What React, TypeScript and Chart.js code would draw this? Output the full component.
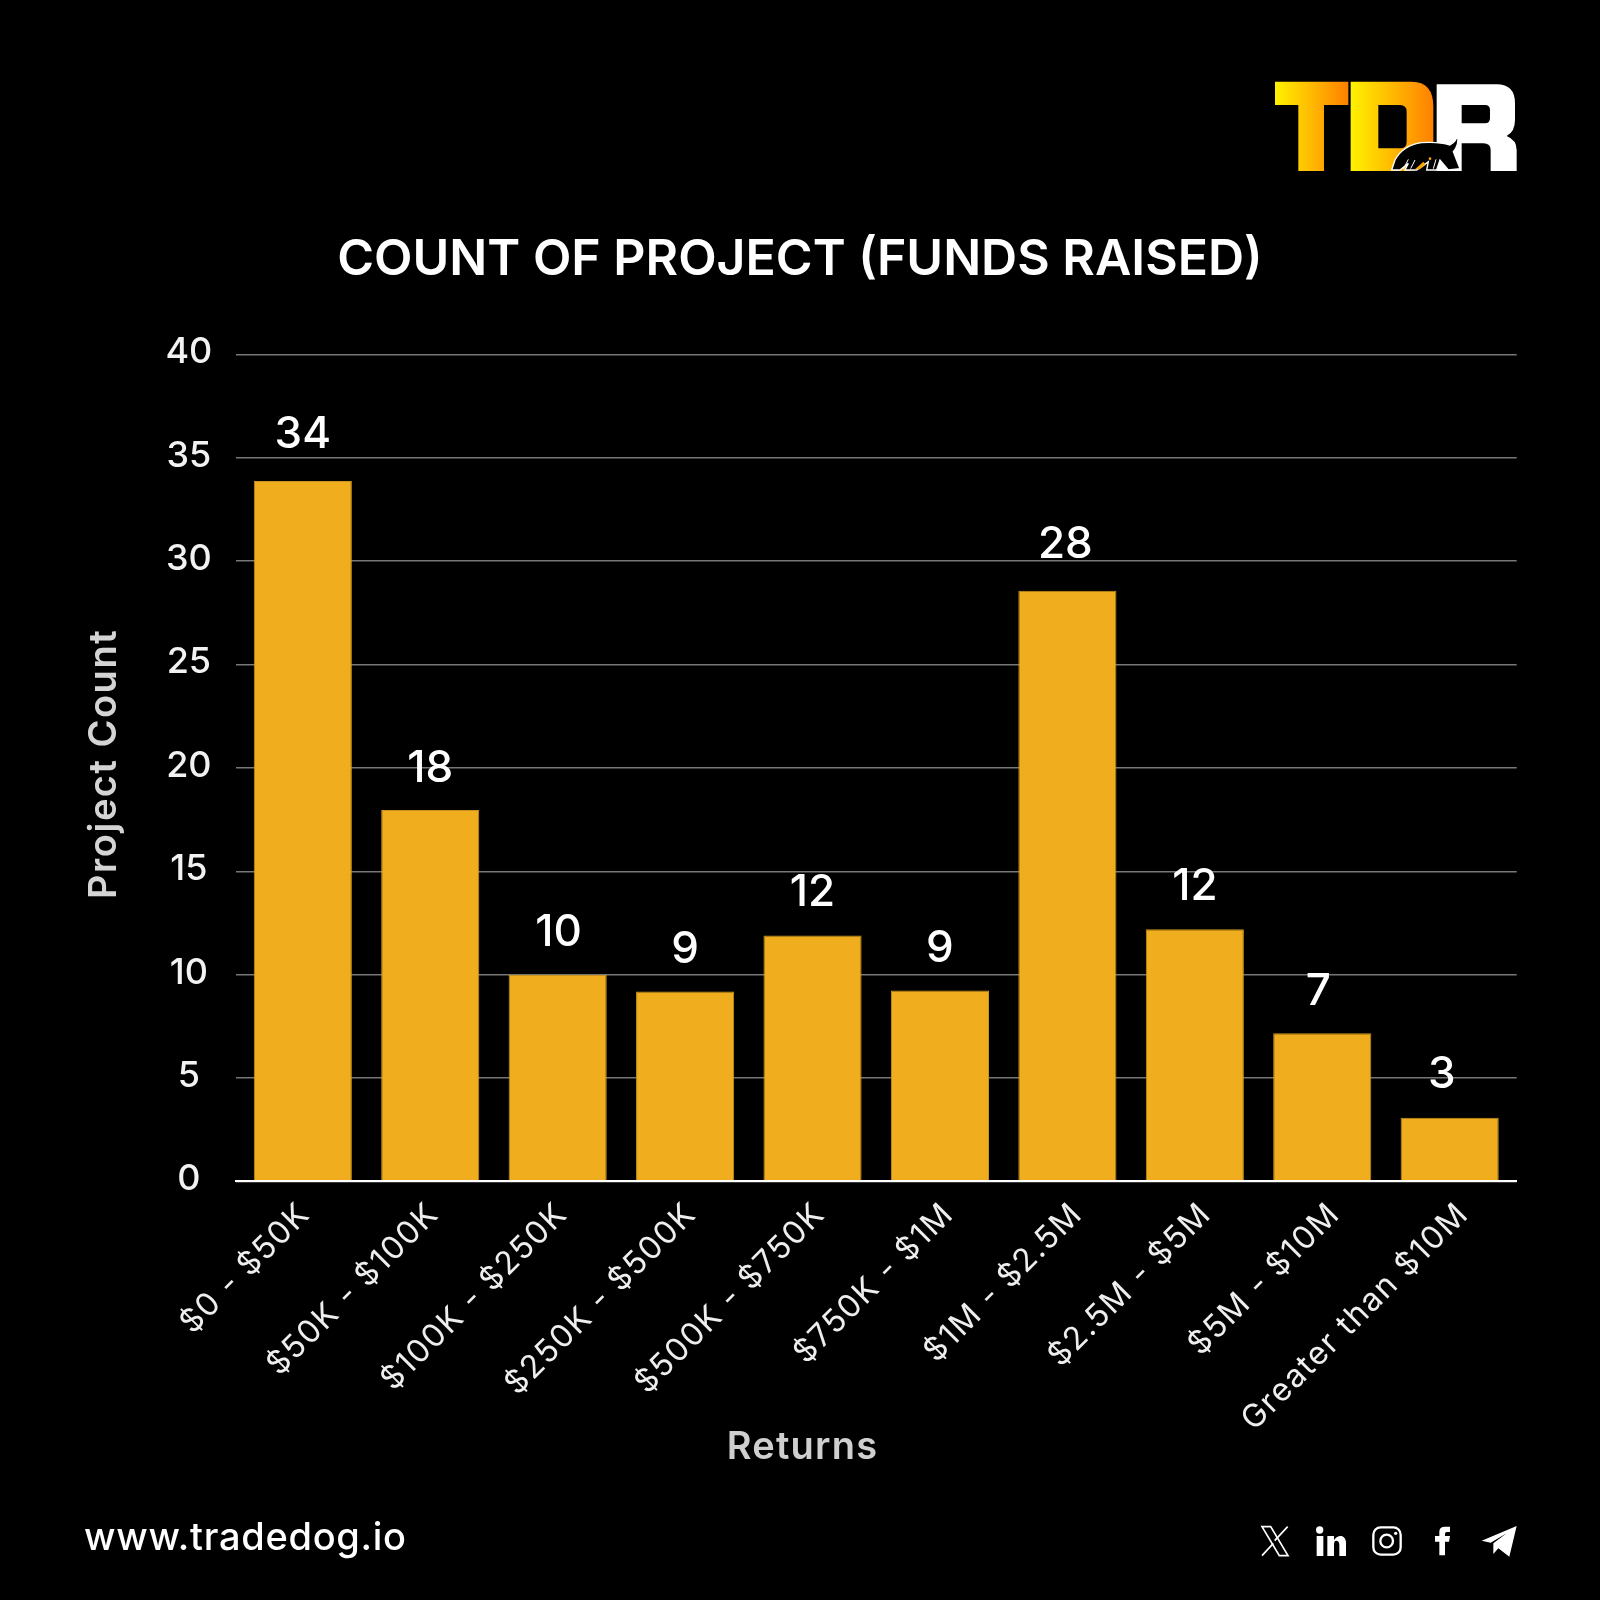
import React, { useEffect, useRef } from "react";
import { Chart, registerables } from "chart.js";

Chart.register(...registerables);

const categories = ["$0 - $50K", "$50K - $100K", "$100K - $250K", "$250K - $500K", "$500K - $750K", "$750K - $1M", "$1M - $2.5M", "$2.5M - $5M", "$5M - $10M", "Greater than $10M"];
const barValues = [33.88, 17.97, 9.98, 9.19, 11.9, 9.24, 28.57, 12.2, 7.17, 3.08];
const barLabels = ["34", "18", "10", "9", "12", "9", "28", "12", "7", "3"];
const yTicks = [0, 5, 10, 15, 20, 25, 30, 35, 40];
const chartTitle = "COUNT OF PROJECT (FUNDS RAISED)";
const xTitle = "Returns";
const yTitle = "Project Count";
const website = "www.tradedog.io";

const FONT = "Inter, 'Noto Sans', sans-serif";
const labelNudgeX = [0, 0, 1, 0, 0, 0, -2, 0, -4, -8];
const labelNudgeY = [-1, 4, 3, 3, 2, 3, -1, 3, 4, 2];

const valueLabels = {
  id: "valueLabels",
  afterDatasetsDraw(chart: any) {
    const { ctx } = chart;
    const meta = chart.getDatasetMeta(0);
    ctx.save();
    ctx.font = `500 44px ${FONT}`;
    ctx.fillStyle = "#ffffff";
    ctx.textAlign = "center";
    ctx.textBaseline = "middle";
    meta.data.forEach((bar: any, i: number) => {
      ctx.fillText(barLabels[i], bar.x + labelNudgeX[i], bar.y - 45 + labelNudgeY[i]);
    });
    ctx.restore();
  },
};

function spaced(target: any, method: string, spacing: string, dx = 0, dy = 0) {
  if (!target || target["__" + method]) return;
  const original = target[method];
  target["__" + method] = true;
  target[method] = function (...args: any[]) {
    const ctx = this.ctx;
    ctx.save();
    ctx.translate(dx, dy);
    ctx.letterSpacing = spacing;
    original.apply(this, args);
    ctx.restore();
  };
}

// The gridlines overrun the category band by a few pixels on each side, the
// reference's geometric face sets wider than the installed one, and its slanted
// labels run out past the axis box with a slightly wider pitch than the bars.
const layoutTweaks = {
  id: "layoutTweaks",
  afterLayout(chart: any) {
    const s = chart.scales.x;
    s._startPixel = 239.1;
    s._endPixel = 1513.4;
    s._length = 1513.4 - 239.1;
    s._computeLabelArea = () => undefined;
    if (!s.__items) {
      s.__items = true;
      const getItems = s.getLabelItems;
      s.getLabelItems = function (area: any) {
        const items = getItems.call(this, area);
        if (!items.__drift) {
          items.__drift = true;
          items.forEach((item: any, i: number) => {
            item.options.translation[0] += -6 + i * 1.3;
          });
        }
        return items;
      };
    }
    spaced(s, "drawLabels", "1.5px");
    spaced(chart.scales.y, "drawTitle", "1.5px", 0, -4);
    spaced(chart.boxes.find((b: any) => b.options && b.options.text === xTitle), "draw", "1.2px", 2.5, 1);
  },
};

function Overlay() {
  return (
    <>
      <svg style={{ position: "absolute", left: 1240, top: 60 }} width={300} height={130} viewBox="0 0 900 390">
        <defs>
          <linearGradient id="gt" gradientUnits="userSpaceOnUse" x1="105" x2="325" y1="0" y2="0">
            <stop offset="0" stopColor="#fff200" />
            <stop offset="1" stopColor="#ff8000" />
          </linearGradient>
          <linearGradient id="gd" gradientUnits="userSpaceOnUse" x1="332" x2="580" y1="0" y2="0">
            <stop offset="0" stopColor="#fff200" />
            <stop offset="1" stopColor="#ff8000" />
          </linearGradient>
        </defs>
        <path d="M105 65H325V135H252V333H175V135H105Z" fill="url(#gt)" />
        <path fillRule="evenodd" d="M332 65H515Q580 65 580 140V250Q580 333 500 333H332Z M415 135V265H480Q500 265 500 245V155Q500 135 480 135Z" fill="url(#gd)" />
        <path fillRule="evenodd" d="M590 73H770Q825 73 825 130V180Q825 215 800 228Q830 240 830 270V333H752V270Q752 250 730 250H665V333H590Z M665 135V190H735Q750 190 750 175V150Q750 135 735 135Z" fill="#fff" />
        <path d="M455 330L465 300Q490 255 545 248Q600 245 630 255Q650 245 653 222Q658 255 640 275L660 326L625 330L600 300L590 330L560 330L565 305L530 330L495 330L505 310L480 330Z" fill="#000" stroke="#fff" strokeWidth="4" />
        <path d="M525 328L550 305L556 312L540 328Z" fill="#f5a800" />
        <path d="M490 328L505 298M512 326L525 300M580 326L588 298" stroke="#fff" strokeWidth="3" fill="none" />
        <circle cx="570" cy="296" r="4" fill="#f5a800" />
      </svg>
      <svg style={{ position: "absolute", left: 0, top: 1500 }} width={500} height={80} viewBox="0 0 500 80">
        <text x={84} y={50} fontFamily={FONT} fontSize={38} fontWeight={500} fill="#fff" textLength={322}>{website}</text>
      </svg>
      <svg style={{ position: "absolute", left: 1240, top: 1500 }} width={300} height={80} viewBox="0 0 900 240">
        <path d="M66 80H92L144 167H118Z" fill="none" stroke="#fff" strokeWidth="5" />
        <path d="M143 80L104 122M66 167L100 130" stroke="#fff" strokeWidth="5" />
        <circle cx="239" cy="90" r="11" fill="#fff" />
        <rect x="230" y="108" width="20" height="60" fill="#fff" />
        <path d="M262 108H282V120Q292 106 305 108Q318 112 318 130V168H298V135Q298 122 288 122Q282 122 282 135V168H262Z" fill="#fff" />
        <rect x="400" y="82" width="82" height="82" rx="22" fill="none" stroke="#fff" strokeWidth="7" />
        <circle cx="440" cy="123" r="19" fill="none" stroke="#fff" strokeWidth="7" />
        <circle cx="467" cy="100" r="5" fill="#fff" />
        <path d="M598 166V125H585V108H598V95Q598 80 615 80H630V96H620Q615 96 615 102V108H630L627 125H615V166Z" fill="#fff" />
        <path d="M725 122L830 78L808 170L775 145L760 162V130L800 100L752 128Z" fill="#fff" />
      </svg>
    </>
  );
}

export default function App() {
  const ref = useRef<HTMLCanvasElement>(null);
  useEffect(() => {
    const chart = new Chart(ref.current!, {
      type: "bar",
      data: {
        labels: categories,
        datasets: [{ data: barValues, backgroundColor: "#F0AE1E", borderColor: "#C9921C", borderWidth: 1, barPercentage: 0.77, categoryPercentage: 1 }],
      },
      plugins: [valueLabels, layoutTweaks],
      options: {
        responsive: false,
        animation: false,
        layout: { padding: 0 },
        plugins: {
          legend: { display: false },
          tooltip: { enabled: false },
          title: {
            display: true,
            text: chartTitle,
            color: "#ffffff",
            font: { family: FONT, size: 50, weight: "600", lineHeight: 1.2 },
            padding: { top: 230, bottom: 64.5 },
          },
          subtitle: {
            display: true,
            position: "bottom",
            text: xTitle,
            color: "#cfcfcf",
            font: { family: FONT, size: 38, weight: "600", lineHeight: 1.2 },
            padding: { top: 2.5, bottom: 130.5 },
          },
        },
        scales: {
          x: {
            grid: { display: false },
            border: { color: "#ffffff", width: 2, z: 1 },
            afterFit(s: any) {
              s.height = 240;
              s.paddingLeft = 0;
              s.paddingRight = 0;
            },
            ticks: {
              color: "#eeeeee",
              font: { family: FONT, size: 32, weight: "400" },
              minRotation: 45,
              maxRotation: 45,
              autoSkip: false,
              padding: 6,
              labelOffset: 8,
            },
          },
          y: {
            min: 0,
            max: 40,
            afterFit(s: any) {
              s.width = 236.3;
              s.paddingTop = 0;
              s.paddingBottom = 0;
            },
            afterBuildTicks(s: any) {
              s.ticks = yTicks.map((value) => ({ value }));
            },
            grid: { color: "#777777", lineWidth: 1.5, drawTicks: false },
            border: { display: false },
            title: {
              display: true,
              text: yTitle,
              color: "#d4d4d4",
              font: { family: FONT, size: 38, weight: "600", lineHeight: 1.2 },
              padding: { top: 82, bottom: 0 },
            },
            ticks: {
              color: "#f2f2f2",
              font: { family: FONT, size: 36, weight: "500" },
              crossAlign: "center",
              padding: 24,
              labelOffset: -2,
            },
          },
          // Empty right-hand margin, so the title stays centred on the full picture.
          margin: {
            type: "linear",
            position: "right",
            display: true,
            grid: { display: false },
            border: { display: false },
            ticks: { display: false },
            afterFit(s: any) {
              s.width = 83.3;
            },
          },
        },
      } as any,
    });
    return () => chart.destroy();
  }, []);

  return (
    <div style={{ position: "relative", width: 1600, height: 1600, background: "#000", overflow: "hidden" }}>
      <style>{`html,body{margin:0;background:#000}`}</style>
      <canvas ref={ref} width={1600} height={1600} style={{ position: "absolute", left: 0, top: 0, display: "block" }} />
      <Overlay />
    </div>
  );
}
